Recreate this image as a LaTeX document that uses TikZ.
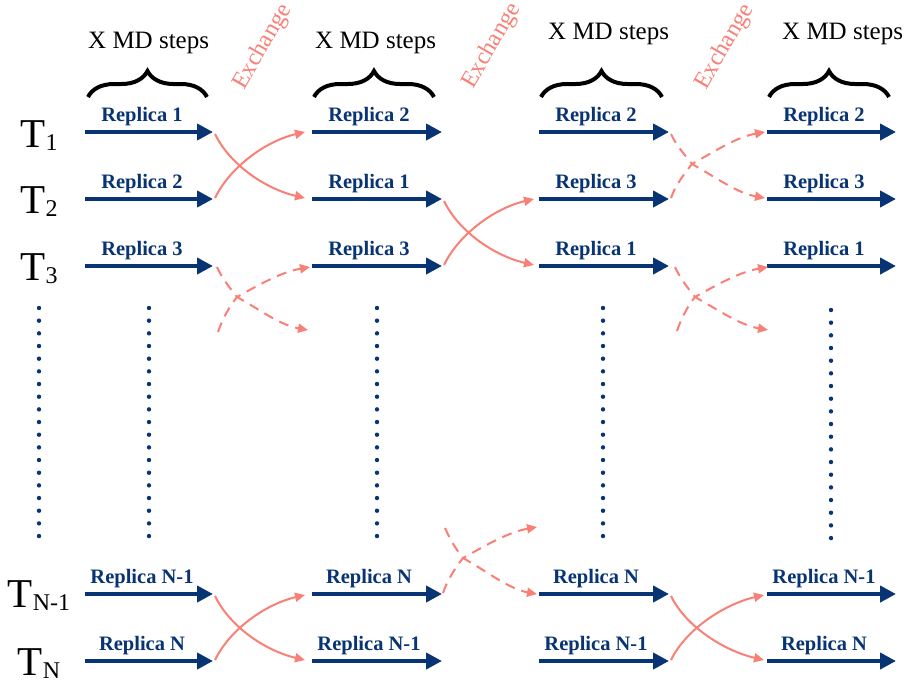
\documentclass[tikz,border=0pt]{standalone}
\usepackage{fontspec}
\setmainfont{Liberation Serif}
\usetikzlibrary{arrows.meta,decorations.pathreplacing}
\definecolor{navy}{RGB}{8,52,115}
\definecolor{salmon}{RGB}{248,128,118}
\begin{document}
\begin{tikzpicture}[x=1pt,y=-1pt,
 mdarrow/.style={draw=navy,line width=4pt,-{Triangle[length=16pt,width=16pt]}},
 replab/.style={anchor=base,text=navy,font=\fontsize{20.5}{20.5}\selectfont\bfseries,inner sep=0pt},
 templab/.style={anchor=base,font=\fontsize{41}{41}\selectfont,inner sep=0pt},
 steplab/.style={anchor=base west,font=\fontsize{25}{25}\selectfont,inner sep=0pt},
 exlab/.style={text=salmon,rotate=60,font=\fontsize{24}{24}\selectfont,inner sep=0pt},
 mdbrace/.style={draw,line width=4pt,decorate,decoration={brace,amplitude=26pt}},
 xsolid/.style={draw=salmon,line width=2pt,-{Triangle[length=10pt,width=9pt]}},
 xdash/.style={xsolid,dash pattern=on 10pt off 7pt},
]
\useasboundingbox[fill=white] (0,0) rectangle (905,683);

% step labels and braces
\node[steplab] (st1) at (88,48) {X MD steps};
\node[steplab] (st2) at (315,48) {X MD steps};
\node[steplab] (st3) at (548,39) {X MD steps};
\node[steplab] (st4) at (782,39) {X MD steps};
\draw[mdbrace] (88,97) -- (207,97);
\draw[mdbrace] (314,97) -- (434,97);
\draw[mdbrace] (541,97) -- (662,97);
\draw[mdbrace] (769,97) -- (889,97);

% exchange labels
\node[exlab] (ex1) at (263,47) {Exchange};
\node[exlab] (ex2) at (492,46) {Exchange};
\node[exlab] (ex3) at (725,47) {Exchange};

% temperature labels
\node[templab] (T1) at (39,147) {T\raisebox{-3pt}{\fontsize{24}{24}\selectfont 1}};
\node[templab] (T2) at (39,213) {T\raisebox{-3pt}{\fontsize{24}{24}\selectfont 2}};
\node[templab] (T3) at (39,280) {T\raisebox{-3pt}{\fontsize{24}{24}\selectfont 3}};
\node[templab] (T4) at (39,607) {T\raisebox{-3pt}{\fontsize{24}{24}\selectfont N-1}};
\node[templab] (T5) at (39,675) {T\raisebox{-3pt}{\fontsize{24}{24}\selectfont N}};

% MD arrows
\foreach \r/\y in {1/132,2/199,3/266,4/594,5/661}{
  \foreach \c/\xs/\xe in {1/85/213,2/312/442,3/539/669,4/767/896}{
    \coordinate (s\c\r) at (\xs,\y);
    \coordinate (e\c\r) at (\xe,\y);
    \draw[mdarrow] (s\c\r) -- (e\c\r);
  }
}

% replica labels
\foreach \c/\xs in {1/85,2/312,3/539,4/767}{
  \foreach \r/\y in {1/132,2/199,3/266,4/594,5/661}{
    \coordinate (l\c\r) at ({\xs+57},{\y-10.5});
  }
}
\foreach \c/\r/\t in {1/1/1,1/2/2,1/3/3,1/4/N-1,1/5/N,
                      2/1/2,2/2/1,2/3/3,2/4/N,2/5/N-1,
                      3/1/2,3/2/3,3/3/1,3/4/N,3/5/N-1,
                      4/1/2,4/2/3,4/3/1,4/4/N-1,4/5/N}{
  \node[replab] (rl\c\r) at (l\c\r) {Replica \t};
}

% vertical dots
\foreach \x/\y in {39/308,149/308,377/308,603/308,831/310}{
  \foreach \i in {0,...,18}{
    \fill[navy] (\x,{\y+\i*12.67}) circle[radius=2.2pt];
  }
}

% exchange 1, rows 1-2 (solid)
\coordinate (a1) at (215,134); \coordinate (b1) at (305,198);
\coordinate (a2) at (215,198); \coordinate (b2) at (305,132);
\draw[xsolid] (a1) .. controls +(15,31) and +(-39,-9) .. (b1);
\draw[xsolid] (a2) .. controls +(15,-31) and +(-39,9) .. (b2);
% exchange 1, rows N-1,N (solid)
\coordinate (a3) at (215,596); \coordinate (b3) at (305,660);
\coordinate (a4) at (215,660); \coordinate (b4) at (305,595);
\draw[xsolid] (a3) .. controls +(15,31) and +(-39,-9) .. (b3);
\draw[xsolid] (a4) .. controls +(15,-31) and +(-39,9) .. (b4);
% exchange 2, rows 2-3 (solid)
\coordinate (a5) at (444,201); \coordinate (b5) at (534,265);
\coordinate (a6) at (444,265); \coordinate (b6) at (534,199);
\draw[xsolid] (a5) .. controls +(15,31) and +(-39,-9) .. (b5);
\draw[xsolid] (a6) .. controls +(15,-31) and +(-39,9) .. (b6);
% exchange 3, rows N-1,N (solid)
\coordinate (a7) at (671,596); \coordinate (b7) at (764,660);
\coordinate (a8) at (671,660); \coordinate (b8) at (764,595);
\draw[xsolid] (a7) .. controls +(15,31) and +(-39,-9) .. (b7);
\draw[xsolid] (a8) .. controls +(15,-31) and +(-39,9) .. (b8);

% dashed exchanges with a kink at the crossing
\foreach \n/\sax/\say/\kx/\ky/\eax/\eay/\sbx/\sby/\ebx/\eby in {
   1/217/267/237/297/308/330/218/332/310/267,
   2/671/134/692/164/765/198/671/198/765/132,
   3/675/267/695/297/768/330/677/331/768/267,
   4/445/528/463/558/537/594/443/593/537/527}{
  \coordinate (ds\n a) at (\sax,\say);
  \coordinate (dk\n) at (\kx,\ky);
  \coordinate (de\n a) at (\eax,\eay);
  \coordinate (ds\n b) at (\sbx,\sby);
  \coordinate (de\n b) at (\ebx,\eby);
  \draw[xdash] (ds\n a) .. controls +(5,11) and +(-8,-10) .. (dk\n)
               .. controls +(25,14) and +(-28,-5) .. (de\n a);
  \draw[xdash] (ds\n b) .. controls +(4,-12) and +(-8,10) .. (dk\n)
               .. controls +(25,-14) and +(-28,5) .. (de\n b);
}
\end{tikzpicture}
\end{document}
